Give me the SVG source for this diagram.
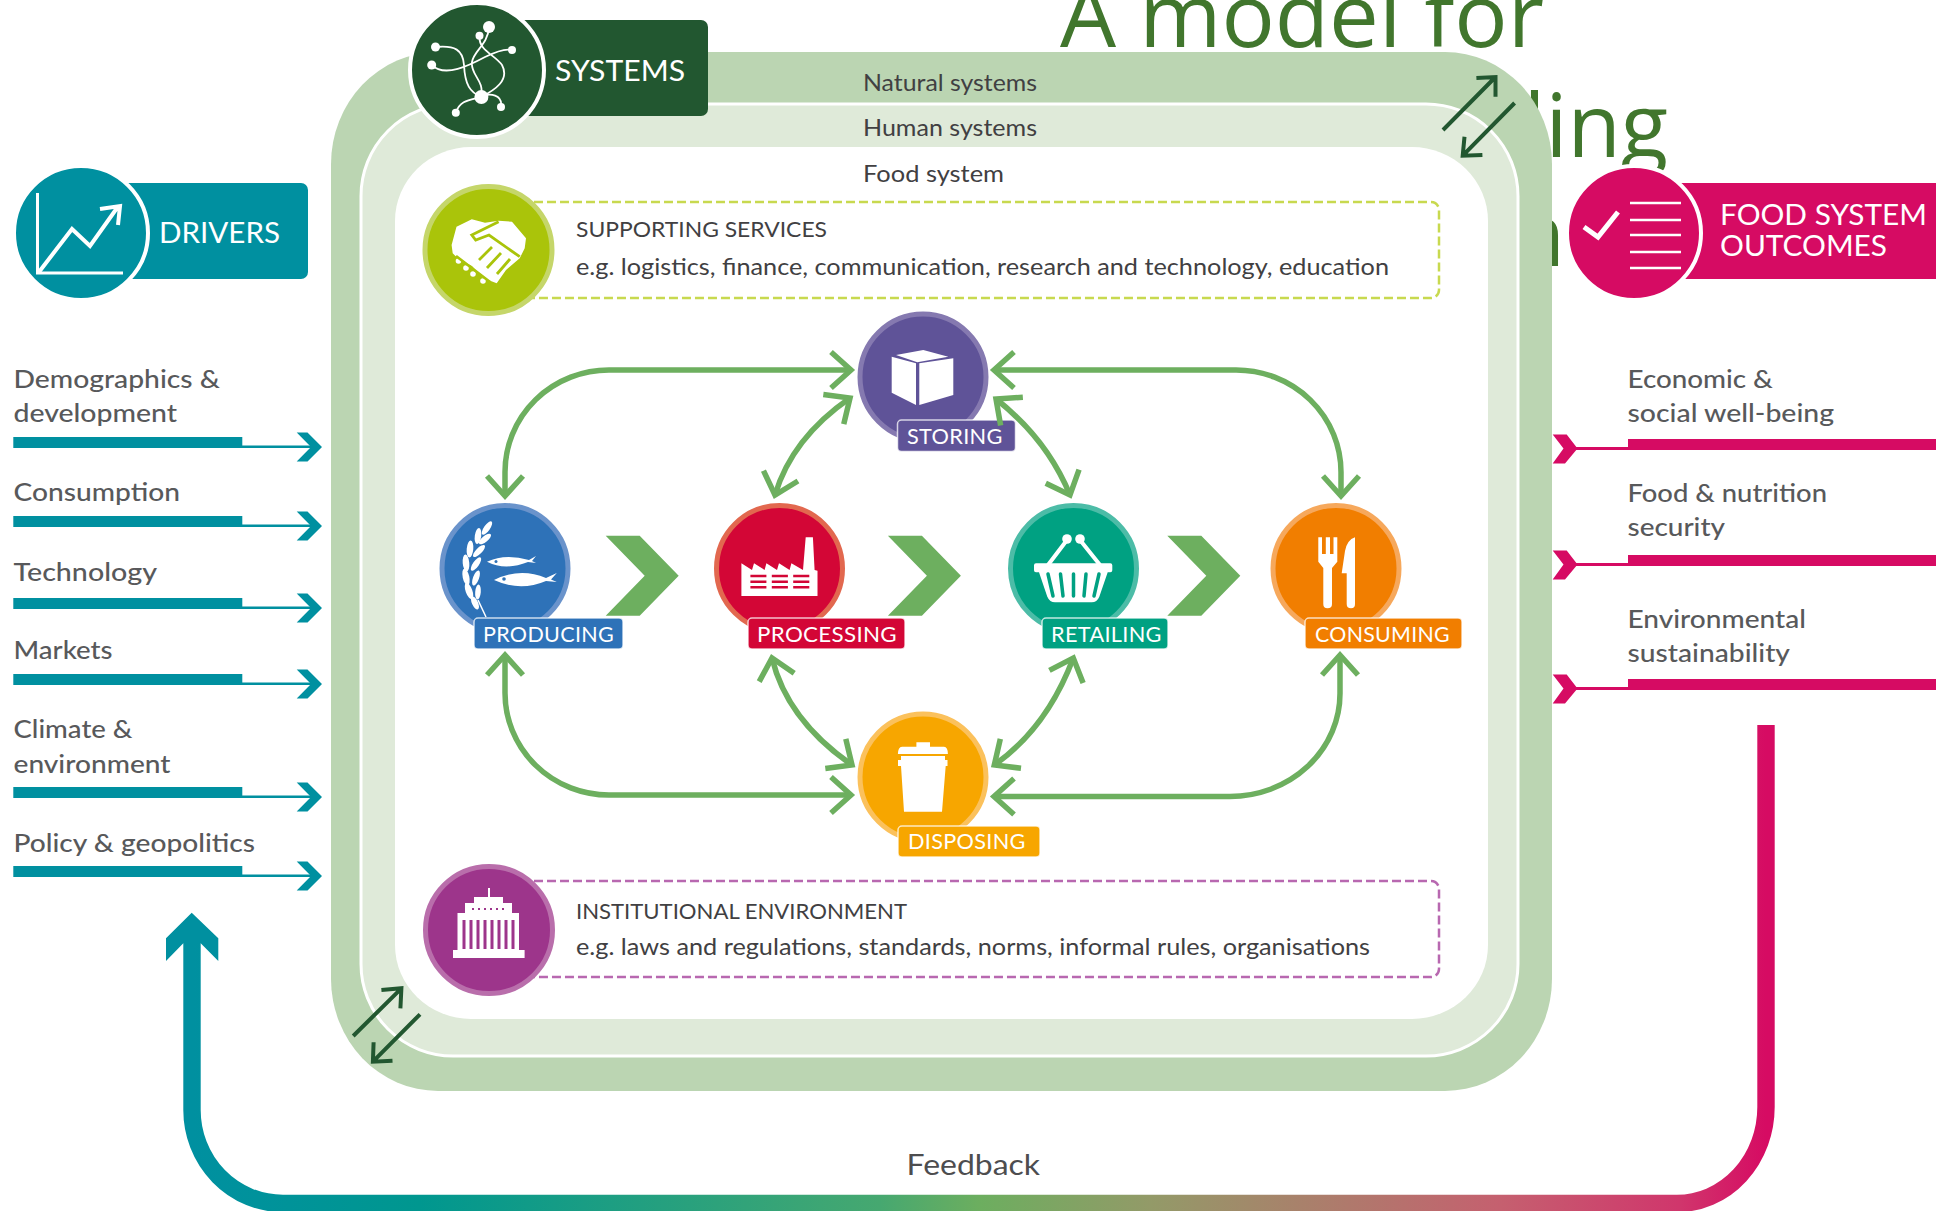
<svg xmlns="http://www.w3.org/2000/svg" xmlns:xlink="http://www.w3.org/1999/xlink" width="1936" height="1211" viewBox="0 0 1936 1211">
<style>
text{font-family:"Lato","Open Sans","Liberation Sans",sans-serif}
.title{font-family:"Open Sans","Noto Sans",sans-serif;font-size:87px;fill:#41762d}
.hd{font-size:28px;fill:#fff;font-weight:400}
.nl{font-size:21px;fill:#fff;letter-spacing:.3px;font-weight:400}
.lvl{font-size:24px;fill:#414042}
.sv{font-size:21px;fill:#414042}
.eg{font-size:24px;fill:#414042}
.li{font-size:25px;fill:#58595b;font-weight:500}
.fb{font-size:29px;fill:#4d4d4f}
.ring{stroke-width:5}
.lab{stroke:#fff;stroke-opacity:.75;stroke-width:1.5}
.ga{fill:none;stroke:#6daf5f;stroke-width:5.500;marker-start:url(#gh);marker-end:url(#gh)}
.sw{fill:none;stroke:#225730;stroke-width:4}
.ic{fill:#fff}
.sys{fill:none;stroke:#fff;stroke-width:1.8}
.tl{stroke:#fff;stroke-width:3;fill:none}
</style>
<defs>
<marker id="gh" markerUnits="userSpaceOnUse" markerWidth="44" markerHeight="56" viewBox="-34 -28 44 56" refX="0" refY="0" orient="auto-start-reverse"><path d="M-20 -18L0 0L-20 18" fill="none" stroke="#6daf5f" stroke-width="5.500"/></marker>
<linearGradient id="fbg" gradientUnits="userSpaceOnUse" x1="192" y1="0" x2="1766" y2="0">
<stop offset="0" stop-color="#0090a0"/><stop offset=".145" stop-color="#00978f"/><stop offset=".437" stop-color="#46a870"/><stop offset=".5" stop-color="#6cae5f"/><stop offset=".609" stop-color="#939a68"/><stop offset=".831" stop-color="#c5606f"/><stop offset=".945" stop-color="#d0366c"/><stop offset="1" stop-color="#d60b63"/>
</linearGradient>
<path id="tch" d="M296.700 -14.500H307.500L322 0L307.500 14.500H296.700L311 0Z" fill="#0090a0"/>
<path id="pch" d="M1552.700 -14H1566.700L1577.500 0L1565 15H1552.700L1563.500 0Z" fill="#d60b63"/>
<path id="bch" d="M0 0H34L73 40L34 80H0L39 40Z" fill="#6daf5f"/>
</defs>

<g id="title">
<text class="title" x="1060" y="46.500" textLength="484" lengthAdjust="spacingAndGlyphs">A model for</text>
<text class="title" x="1668" y="157" text-anchor="end">ding</text>
<text class="title" x="1565" y="266" text-anchor="end">n</text>
</g>

<g id="frame">
<rect x="331" y="52" width="1221" height="1039" rx="107" ry="112" fill="#bbd5b2"/>
<rect x="361" y="104" width="1157" height="952" rx="92" ry="92" fill="#dfead9" stroke="#fff" stroke-width="3"/>
<rect x="395" y="147" width="1093" height="872" rx="76" ry="74" fill="#fff"/>
<text class="lvl" x="863" y="91" textLength="174" lengthAdjust="spacingAndGlyphs">Natural systems</text>
<text class="lvl" x="863" y="136" textLength="174" lengthAdjust="spacingAndGlyphs">Human systems</text>
<text class="lvl" x="863" y="181.500" textLength="141" lengthAdjust="spacingAndGlyphs">Food system</text>
</g>

<g id="systems">
<rect x="510" y="20" width="198" height="96" rx="7" fill="#225730"/>
<circle cx="477" cy="70" r="67" fill="#225730" stroke="#fff" stroke-width="4"/>
<path class="sys" d="M489 27C488 45 474 50 472 62C470 75 485 80 481 97M479.500 36C478 50 495 55 502 65C510 80 495 90 481 97M435.500 47C455 45 463 50 464 65C465 85 470 92 481 97M431.700 65C445 78 470 65 485 57C495 52 505 48 512 50M481 97C490 92 503 95 501 107M481 97C470 100 460 100 455.800 112.700"/>
<g class="ic"><circle cx="489" cy="27" r="6"/><circle cx="479.500" cy="35.700" r="4"/><circle cx="435.500" cy="47" r="4.500"/><circle cx="512" cy="50" r="4"/><circle cx="431.700" cy="65" r="4.500"/><circle cx="481.400" cy="97" r="7"/><circle cx="501" cy="107" r="4"/><circle cx="455.800" cy="112.700" r="4"/></g>
<text class="hd" x="555" y="81" textLength="130" lengthAdjust="spacingAndGlyphs">SYSTEMS</text>
</g>

<g id="drivers">
<rect x="100" y="183" width="208" height="96" rx="7" fill="#0090a0"/>
<circle cx="81" cy="233" r="67" fill="#0090a0" stroke="#fff" stroke-width="4"/>
<path class="tl" d="M37.500 193V273H123" stroke-width="2.500"/>
<path d="M39 272L72 229L90 246L117 208M100 209L120 206L118 225" fill="none" stroke="#fff" stroke-width="4"/>
<text class="hd" x="159" y="243" textLength="121" lengthAdjust="spacingAndGlyphs">DRIVERS</text>
<text class="li" x="13.500" y="387.500" textLength="206.500" lengthAdjust="spacingAndGlyphs">Demographics &amp;</text>
<text class="li" x="13.500" y="421.500" textLength="163.500" lengthAdjust="spacingAndGlyphs">development</text>
<text class="li" x="13.500" y="501" textLength="166.500" lengthAdjust="spacingAndGlyphs">Consumption</text>
<text class="li" x="13.500" y="580.700" textLength="143.500" lengthAdjust="spacingAndGlyphs">Technology</text>
<text class="li" x="13.500" y="659.300" textLength="99" lengthAdjust="spacingAndGlyphs">Markets</text>
<text class="li" x="13.500" y="738.300" textLength="119" lengthAdjust="spacingAndGlyphs">Climate &amp;</text>
<text class="li" x="13.500" y="772.700" textLength="157" lengthAdjust="spacingAndGlyphs">environment</text>
<text class="li" x="13.500" y="851.700" textLength="241.500" lengthAdjust="spacingAndGlyphs">Policy &amp; geopolitics</text>
</g>

<g id="outcomes">
<path d="M1620 183H1936V279H1620Z" fill="#d60b63"/>
<circle cx="1634" cy="233" r="67" fill="#d60b63" stroke="#fff" stroke-width="4"/>
<path d="M1584 227L1598 237L1618 212" fill="none" stroke="#fff" stroke-width="5"/>
<path d="M1630 203H1681M1630 220H1681M1630 235H1681M1630 252H1681M1630 268H1681" fill="none" stroke="#fff" stroke-width="2.500"/>
<text class="hd" x="1720" y="225" textLength="207" lengthAdjust="spacingAndGlyphs">FOOD SYSTEM</text>
<text class="hd" x="1720" y="256" textLength="167" lengthAdjust="spacingAndGlyphs">OUTCOMES</text>
<text class="li" x="1627.500" y="388" textLength="145.500" lengthAdjust="spacingAndGlyphs">Economic &amp;</text>
<text class="li" x="1627.500" y="422" textLength="206.500" lengthAdjust="spacingAndGlyphs">social well-being</text>
<text class="li" x="1627.500" y="502" textLength="199.500" lengthAdjust="spacingAndGlyphs">Food &amp; nutrition</text>
<text class="li" x="1627.500" y="535.500" textLength="97.500" lengthAdjust="spacingAndGlyphs">security</text>
<text class="li" x="1627.500" y="628" textLength="178.500" lengthAdjust="spacingAndGlyphs">Environmental</text>
<text class="li" x="1627.500" y="662" textLength="162.500" lengthAdjust="spacingAndGlyphs">sustainability</text>
</g>

<g id="supporting-services">
<rect x="500" y="202" width="939" height="96" rx="8" fill="none" stroke="#c8d94f" stroke-width="2.500" stroke-dasharray="9 4"/>
<circle class="ring" cx="488.500" cy="250" r="63.500" fill="#aac40a" stroke="#c5d66a"/>
<path class="ic" d="M451.600 245L456.500 226.700L471.800 219.300L485 222.700L498.600 220.700L512 221.700L526 238.300L524.700 248.300L519.700 258.300L506 270L496.700 283.300L483 278L472 266L458.500 259L452.700 253.300Z"/>
<circle class="ic" cx="458.500" cy="261" r="2.800"/><circle class="ic" cx="466" cy="268" r="2.800"/><circle class="ic" cx="473" cy="274" r="2.800"/><circle class="ic" cx="483" cy="281" r="2.800"/>
<path d="M498.600 221.700L471.800 235L475.700 240L489 235L519.700 256.700M510 259L497 274M501 253L487 268M492 247L479 260M456 256L490 282" fill="none" stroke="#aac40a" stroke-width="2.800"/>
<text class="sv" x="576" y="237" textLength="251" lengthAdjust="spacingAndGlyphs">SUPPORTING SERVICES</text>
<text class="eg" x="576" y="275" textLength="813" lengthAdjust="spacingAndGlyphs">e.g. logistics, finance, communication, research and technology, education</text>
</g>

<g id="institutional-environment">
<rect x="500" y="881" width="939" height="96" rx="8" fill="none" stroke="#b868b0" stroke-width="2.500" stroke-dasharray="9 4"/>
<circle class="ring" cx="489" cy="930" r="63.500" fill="#9d358b" stroke="#b96eab"/>
<path class="ic" d="M488 888H490V897H503V903H512V913H519V950H524.600V958H453V950H457.500V913H465V903H474V897H488Z"/>
<path d="M464 920V949M471 920V949M478 920V949M485 920V949M492 920V949M499 920V949M506 920V949M513 920V949" fill="none" stroke="#9d358b" stroke-width="3"/>
<path d="M472 909H506" fill="none" stroke="#9d358b" stroke-width="2" stroke-dasharray="2 4"/>
<text class="sv" x="576" y="919" textLength="331" lengthAdjust="spacingAndGlyphs">INSTITUTIONAL ENVIRONMENT</text>
<text class="eg" x="576" y="955" textLength="794" lengthAdjust="spacingAndGlyphs">e.g. laws and regulations, standards, norms, informal rules, organisations</text>
</g>

<g id="flow-chevrons">
<use href="#bch" x="605.700" y="535.700"/>
<use href="#bch" x="887.900" y="535.700"/>
<use href="#bch" x="1167.300" y="535.700"/>
</g>

<g id="producing">
<circle class="ring" cx="505" cy="568.500" r="63" fill="#2e72b8" stroke="#6a93cb"/>
<path d="M478 600L486 617" stroke="#fff" stroke-width="1.500" fill="none"/>
<g class="ic">
<ellipse cx="487" cy="528" rx="3" ry="8" transform="rotate(35 487 528)"/>
<ellipse cx="478" cy="536" rx="3.200" ry="8" transform="rotate(8 478 536)"/><ellipse cx="485" cy="539" rx="3" ry="7.500" transform="rotate(50 485 539)"/>
<ellipse cx="470" cy="549" rx="3.300" ry="8.500" transform="rotate(5 470 549)"/><ellipse cx="479" cy="551" rx="3" ry="8" transform="rotate(45 479 551)"/>
<ellipse cx="466" cy="563" rx="3.300" ry="8.500" transform="rotate(-5 466 563)"/><ellipse cx="476" cy="564" rx="3" ry="8" transform="rotate(35 476 564)"/>
<ellipse cx="466" cy="577" rx="3.300" ry="8.500" transform="rotate(-12 466 577)"/><ellipse cx="476" cy="578" rx="3" ry="8" transform="rotate(20 476 578)"/>
<ellipse cx="469" cy="591" rx="3.300" ry="8.500" transform="rotate(-20 469 591)"/><ellipse cx="478" cy="592" rx="2.800" ry="7.500" transform="rotate(5 478 592)"/>
<ellipse cx="475" cy="603" rx="3" ry="7" transform="rotate(-25 475 603)"/>
</g>
<path class="ic" d="M487 561.700Q505 553 529 560L536 556L532 561L536 563L528 562Q505 571 487 561.700ZM494 580Q520 567 546 578L556.800 573L551 579.500L556.800 582L546 581Q520 592 494 580Z"/>
<circle cx="496" cy="561.500" r="1.500" fill="#2e72b8"/><circle cx="504" cy="579" r="1.800" fill="#2e72b8"/>
<rect class="lab" x="474" y="618" width="149" height="31" rx="4" fill="#2e72b8"/>
<text class="nl" x="483" y="641.500" textLength="131" lengthAdjust="spacingAndGlyphs">PRODUCING</text>
</g>

<g id="processing">
<circle class="ring" cx="779.500" cy="568.500" r="63" fill="#d30636" stroke="#e2684f"/>
<path class="ic" d="M741.400 563.300L752 570L754 563.300L764.600 570L766.400 563.300L777 570L779 563.300L789.600 570L791.400 563.300L803 570L805.700 537.300H812.900L814.600 570L817.500 570.700V596H741.400Z"/>
<path d="M750.400 576H766.400M771.800 576H787.900M793.200 576H809.300M750.400 581.700H766.400M771.800 581.700H787.900M793.200 581.700H809.300M750.400 587.300H766.400M771.800 587.300H787.900M793.200 587.300H809.300" fill="none" stroke="#d30636" stroke-width="2.500"/>
<rect class="lab" x="748" y="618" width="157" height="31" rx="4" fill="#d30636"/>
<text class="nl" x="757" y="641.500" textLength="140" lengthAdjust="spacingAndGlyphs">PROCESSING</text>
</g>

<g id="retailing">
<circle class="ring" cx="1073.500" cy="568.500" r="63" fill="#00a182" stroke="#4cbca7"/>
<path d="M1048 565L1067 540M1100 565L1080 540" fill="none" stroke="#fff" stroke-width="4"/>
<circle class="ic" cx="1067" cy="539" r="4.800"/><circle class="ic" cx="1080" cy="539" r="4.800"/>
<path class="ic" d="M1036 563.300H1110.300Q1112.300 563.300 1112.300 565.300V570.300Q1112.300 572.300 1110.300 572.300H1107.700L1099.300 596.700Q1097 602.300 1091.700 602.300H1055Q1049.700 602.300 1047.300 596.700L1039 572.300H1036Q1034 572.300 1034 570.300V565.300Q1034 563.300 1036 563.300Z"/>
<path d="M1048 574L1053 596M1060.500 574L1063 596M1073.500 574V596M1086 574L1084 596M1099 574L1094 596" fill="none" stroke="#00a182" stroke-width="3.500" stroke-linecap="round"/>
<rect class="lab" x="1042" y="618" width="126" height="31" rx="4" fill="#00a182"/>
<text class="nl" x="1051" y="641.500" textLength="110.700" lengthAdjust="spacingAndGlyphs">RETAILING</text>
</g>

<g id="consuming">
<circle class="ring" cx="1336" cy="568.500" r="63" fill="#f17e00" stroke="#f6a85c"/>
<path class="ic" d="M1318.300 537.300H1322V554H1325.800V537.300H1330V554H1333.500V537.300H1337.300V561.700L1332 568V604Q1332 608.300 1327.500 608.300Q1323.300 608.300 1323.300 604V568L1318.300 561.700Z"/>
<path class="ic" d="M1355 539V604Q1355 608.300 1351 608.300Q1346.700 608.300 1346.700 604V573.300H1341.700L1345 551Q1347 540 1355 537.300Z"/>
<rect class="lab" x="1305" y="618" width="157" height="31" rx="4" fill="#f17e00"/>
<text class="nl" x="1315" y="641.500" textLength="135" lengthAdjust="spacingAndGlyphs">CONSUMING</text>
</g>

<g id="storing">
<circle class="ring" cx="923" cy="377" r="63" fill="#5f5398" stroke="#8579b0"/>
<path class="ic" d="M923.300 350L948.300 356.700L917.300 362.300L896 355ZM891.700 356.700L916 363.300V405L891.700 392.700ZM919.300 363.300L953.300 358.300V395L919.300 405Z"/>
<rect class="lab" x="897.500" y="420" width="118" height="31.500" rx="4" fill="#5f5398"/>
<text class="nl" x="907" y="443.500" textLength="95.700" lengthAdjust="spacingAndGlyphs">STORING</text>
</g>

<g id="disposing">
<circle class="ring" cx="923" cy="777" r="63" fill="#f7a600" stroke="#fbc15c"/>
<path class="ic" d="M916.400 746.700V742.300H930V746.700H944Q947.900 747 947.900 754H897.900Q898 747 902 746.700ZM901 756H945V760H947.500V766H945.700L942 811.700H904L901 766H898V760H901Z"/>
<rect class="lab" x="898" y="826" width="142" height="31" rx="4" fill="#f7a600"/>
<text class="nl" x="908" y="849" textLength="117.700" lengthAdjust="spacingAndGlyphs">DISPOSING</text>
</g>

<g id="connectors">
<path class="ga" d="M505 496V472A104 102 0 0 1 609 370H851"/>
<path class="ga" d="M994 370H1236A105 102 0 0 1 1341 472V496"/>
<path class="ga" d="M505 655V693A104 102 0 0 0 609 795H851"/>
<path class="ga" d="M994 796.500H1230A110 103 0 0 0 1340 693.500V655"/>
<path class="ga" d="M775 495Q792 438 850 398"/>
<path class="ga" d="M996 399Q1047 439 1070 495"/>
<path class="ga" d="M772 658Q787 720 852 765"/>
<path class="ga" d="M1073.300 658Q1047 728 994.300 765"/>

<path class="sw" d="M1443 130L1495.500 77M1476.400 78L1495.500 77L1495.500 96.700"/>
<path class="sw" d="M1514.600 103L1462.700 155.700M1464.500 136.700L1462.700 155.700L1482.400 155"/>
<path class="sw" d="M353.200 1036L401.400 988.300M381.400 990L401.400 988.300L400.400 1008.300"/>
<path class="sw" d="M420 1014.300L372.900 1061.700M373.600 1042.300L372.900 1061.700L392.500 1060.700"/>

<g id="driver-arrows" fill="#0090a0">
<path d="M13.300 437H242.300V445.500H315V448H13.300Z"/><use href="#tch" y="447"/>
<path d="M13.300 516H242.300V524.500H315V527H13.300Z"/><use href="#tch" y="526"/>
<path d="M13.300 598H242.300V606.500H315V609H13.300Z"/><use href="#tch" y="608"/>
<path d="M13.300 674H242.300V682.500H315V685H13.300Z"/><use href="#tch" y="684"/>
<path d="M13.300 787H242.300V795.500H315V798H13.300Z"/><use href="#tch" y="797"/>
<path d="M13.300 866H242.300V874.500H315V877H13.300Z"/><use href="#tch" y="876"/>
</g>
<g id="outcome-arrows" fill="#d60b63">
<path d="M1936 439H1628V447H1572V450H1936Z"/><use href="#pch" y="448.500"/>
<path d="M1936 555H1628V563H1572V566H1936Z"/><use href="#pch" y="564.500"/>
<path d="M1936 679H1628V687H1572V690H1936Z"/><use href="#pch" y="688.500"/>
</g>
<path d="M1766 725V1107A89 96.500 0 0 1 1677 1203.500H283A91 93.500 0 0 1 192 1110V940" fill="none" stroke="url(#fbg)" stroke-width="17.400"/>
<path d="M191.700 912.700L218.300 938.300V961L200.700 943.300H183.300L166 961V938.300Z" fill="#0090a0"/>
</g>
<text id="feedback" class="fb" x="906.500" y="1175" textLength="133.500" lengthAdjust="spacingAndGlyphs">Feedback</text>
</svg>
